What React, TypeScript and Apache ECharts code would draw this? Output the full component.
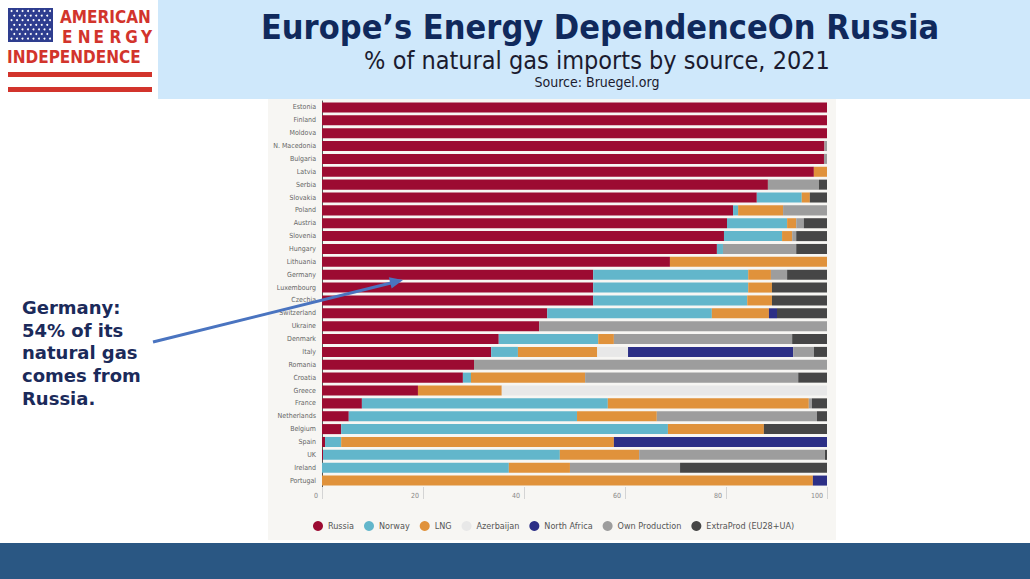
import React, { useEffect, useRef } from "react";
import * as echarts from "echarts";

const countries = [
  "Estonia", "Finland", "Moldova", "N. Macedonia", "Bulgaria", "Latvia", "Serbia", "Slovakia",
  "Poland", "Austria", "Slovenia", "Hungary", "Lithuania", "Germany", "Luxembourg", "Czechia",
  "Switzerland", "Ukraine", "Denmark", "Italy", "Romania", "Croatia", "Greece", "France",
  "Netherlands", "Belgium", "Spain", "UK", "Ireland", "Portugal",
];

const russia = [100, 100, 100, 99.5, 99.4, 97.4, 88.3, 86.1, 81.4, 80.2, 79.6, 78.2, 68.9, 53.7, 53.7, 53.7, 44.6, 43.0, 35.0, 33.5, 30.1, 27.9, 19.0, 7.9, 5.3, 3.8, 0.6, 0.2, 0, 0];
const norway = [0, 0, 0, 0, 0, 0, 0, 8.9, 1.0, 11.9, 11.5, 1.2, 0, 30.7, 30.7, 30.5, 32.6, 0, 19.7, 5.3, 0, 1.6, 0, 48.7, 45.2, 64.7, 3.2, 46.9, 37.0, 0];
const lng = [0, 0, 0, 0, 0, 2.6, 0, 1.6, 8.9, 1.8, 2.0, 0, 31.1, 4.5, 4.7, 4.9, 11.3, 0, 3.1, 15.7, 0, 22.6, 16.6, 39.8, 15.8, 19.0, 54.0, 15.7, 12.1, 97.2];
const azerbaijan = [0, 0, 0, 0, 0, 0, 0, 0, 0, 0, 0, 0, 0, 0, 0, 0, 0, 0, 0, 6.1, 0, 0, 64.4, 0, 0, 0, 0, 0, 0, 0];
const northAfrica = [0, 0, 0, 0, 0, 0, 0, 0, 0, 0, 0, 0, 0, 0, 0, 0, 1.6, 0, 0, 32.7, 0, 0, 0, 0, 0, 0, 42.2, 0, 0, 2.8];
const ownProduction = [0, 0, 0, 0.5, 0.6, 0, 10.1, 0, 8.7, 1.5, 0.8, 14.5, 0, 3.2, 0, 0, 0, 57.0, 35.3, 4.1, 69.9, 42.2, 0, 0.6, 31.7, 0, 0, 36.8, 21.8, 0];
const extraProd = [0, 0, 0, 0, 0, 0, 1.6, 3.4, 0, 4.6, 6.1, 6.1, 0, 7.9, 10.9, 10.9, 9.9, 0, 6.9, 2.6, 0, 5.7, 0, 3.0, 2.0, 12.5, 0, 0.4, 29.1, 0];

const seriesNames = ["Russia", "Norway", "LNG", "Azerbaijan", "North Africa", "Own Production", "ExtraProd (EU28+UA)"];
const seriesData = [russia, norway, lng, azerbaijan, northAfrica, ownProduction, extraProd];
const seriesColors = ["#9c0b32", "#62b6cb", "#e0923b", "#e8e8e8", "#2c2f86", "#9d9d9d", "#464646"];

const xTicks = [0, 20, 40, 60, 80, 100];

const narrow = "'DejaVu Sans Condensed', 'Liberation Sans Narrow', Roboto, sans-serif";

function buildGraphics() {
  const g: any[] = [];
  // header band
  g.push({ type: "rect", z: 0, shape: { x: 158, y: 0, width: 872, height: 99 }, style: { fill: "#cfe8fb" } });
  // chart panel
  g.push({ type: "rect", z: -10, shape: { x: 268, y: 99, width: 568, height: 441 }, style: { fill: "#f7f6f3" } });
  // bottom band
  g.push({ type: "rect", z: 0, shape: { x: 0, y: 543, width: 1030, height: 36 }, style: { fill: "#2a5783" } });
  // logo flag
  g.push({ type: "rect", z: 1, shape: { x: 8, y: 8, width: 45, height: 34 }, style: { fill: "#2e3d8f" } });
  for (let r = 0; r < 7; r++) {
    const cols = r % 2 === 0 ? 8 : 7;
    for (let c = 0; c < cols; c++) {
      g.push({
        type: "circle", z: 2,
        shape: { cx: 11.5 + c * 5.5 + (r % 2 === 0 ? 0 : 2.75), cy: 11 + r * 4.6, r: 1 },
        style: { fill: "#ffffff" },
      });
    }
  }
  const red = "#d2342c";
  g.push({ type: "text", z: 2, style: { text: "AMERICAN", x: 60, y: 8, fontSize: 17, fontWeight: "bold", fontFamily: narrow, fill: red, textVerticalAlign: "top" } });
  const energy = ["E", "N", "E", "R", "G", "Y"];
  energy.forEach((ch, i) => {
    g.push({ type: "text", z: 2, style: { text: ch, x: 62 + i * 15.8, y: 28, fontSize: 17, fontWeight: "bold", fontFamily: narrow, fill: red, textVerticalAlign: "top" } });
  });
  g.push({ type: "text", z: 2, style: { text: "INDEPENDENCE", x: 7, y: 48, fontSize: 17, fontWeight: "bold", fontFamily: narrow, fill: red, textVerticalAlign: "top" } });
  g.push({ type: "rect", z: 2, shape: { x: 8, y: 72, width: 144, height: 5 }, style: { fill: red } });
  g.push({ type: "rect", z: 2, shape: { x: 8, y: 87, width: 144, height: 5 }, style: { fill: red } });
  // titles
  g.push({ type: "text", z: 3, style: { text: "Europe\u2019s Energy DependenceOn Russia", x: 600, y: 27, fontSize: 34, fontWeight: "bold", fontFamily: narrow, fill: "#10295c", textAlign: "center", textVerticalAlign: "middle" } });
  g.push({ type: "text", z: 3, style: { text: "% of natural gas imports by source, 2021", x: 597, y: 60, fontSize: 25, fontFamily: narrow, fill: "#1b1b2f", textAlign: "center", textVerticalAlign: "middle" } });
  g.push({ type: "text", z: 3, style: { text: "Source: Bruegel.org", x: 597, y: 82, fontSize: 14, fontFamily: narrow, fill: "#1b1b2f", textAlign: "center", textVerticalAlign: "middle" } });
  // annotation
  g.push({
    type: "text", z: 3,
    style: {
      text: "Germany:\n54% of its\nnatural gas\ncomes from\nRussia.",
      x: 22, y: 296, fontSize: 18, fontWeight: "bold", fontFamily: "'DejaVu Sans', Verdana, sans-serif",
      fill: "#1b2a5a", lineHeight: 22.7, textVerticalAlign: "top",
    },
  });
  // arrow
  g.push({ type: "line", z: 5, shape: { x1: 153, y1: 342, x2: 391, y2: 283 }, style: { stroke: "#4a74c0", lineWidth: 3 } });
  g.push({ type: "polygon", z: 5, shape: { points: [[403, 280], [391.6, 288.5], [388.8, 277.3]] }, style: { fill: "#4a74c0" } });
  return g;
}

export default function App() {
  const ref = useRef<HTMLDivElement>(null);
  useEffect(() => {
    document.body.style.margin = "0";
    const chart = echarts.init(ref.current!, undefined, { renderer: "svg" });
    chart.setOption({
      animation: false,
      backgroundColor: "#ffffff",
      graphic: buildGraphics(),
      legend: {
        left: 308,
        top: 516,
        icon: "circle",
        itemWidth: 10,
        itemHeight: 10,
        itemGap: 10,
        textStyle: { fontFamily: narrow, fontSize: 9, color: "#555" },
        data: seriesNames,
      },
      grid: { left: 322, right: 203, top: 101, bottom: 92, containLabel: false },
      xAxis: {
        type: "value",
        min: 0,
        max: 100,
        interval: 20,
        axisLine: { show: false },
        axisTick: { show: true, length: 12, lineStyle: { color: "#d4d4d4" } },
        splitLine: { show: false },
        axisLabel: {
          fontFamily: narrow, fontSize: 7, color: "#888",
          align: "right", padding: [0, 4, 0, 0], margin: 5,
          formatter: (v: number) => (xTicks.includes(v) ? String(v) : ""),
        },
      },
      yAxis: {
        type: "category",
        inverse: true,
        data: countries,
        axisLine: { show: true, lineStyle: { color: "#555", width: 1 } },
        axisTick: { show: false },
        axisLabel: { fontFamily: narrow, fontSize: 7, color: "#666", margin: 6 },
      },
      series: seriesNames.map((name, i) => ({
        name,
        type: "bar",
        stack: "total",
        barCategoryGap: "22%",
        itemStyle: { color: seriesColors[i] },
        emphasis: { disabled: true },
        data: seriesData[i],
      })),
    });
    return () => chart.dispose();
  }, []);
  return <div ref={ref} style={{ width: 1030, height: 579 }} />;
}
